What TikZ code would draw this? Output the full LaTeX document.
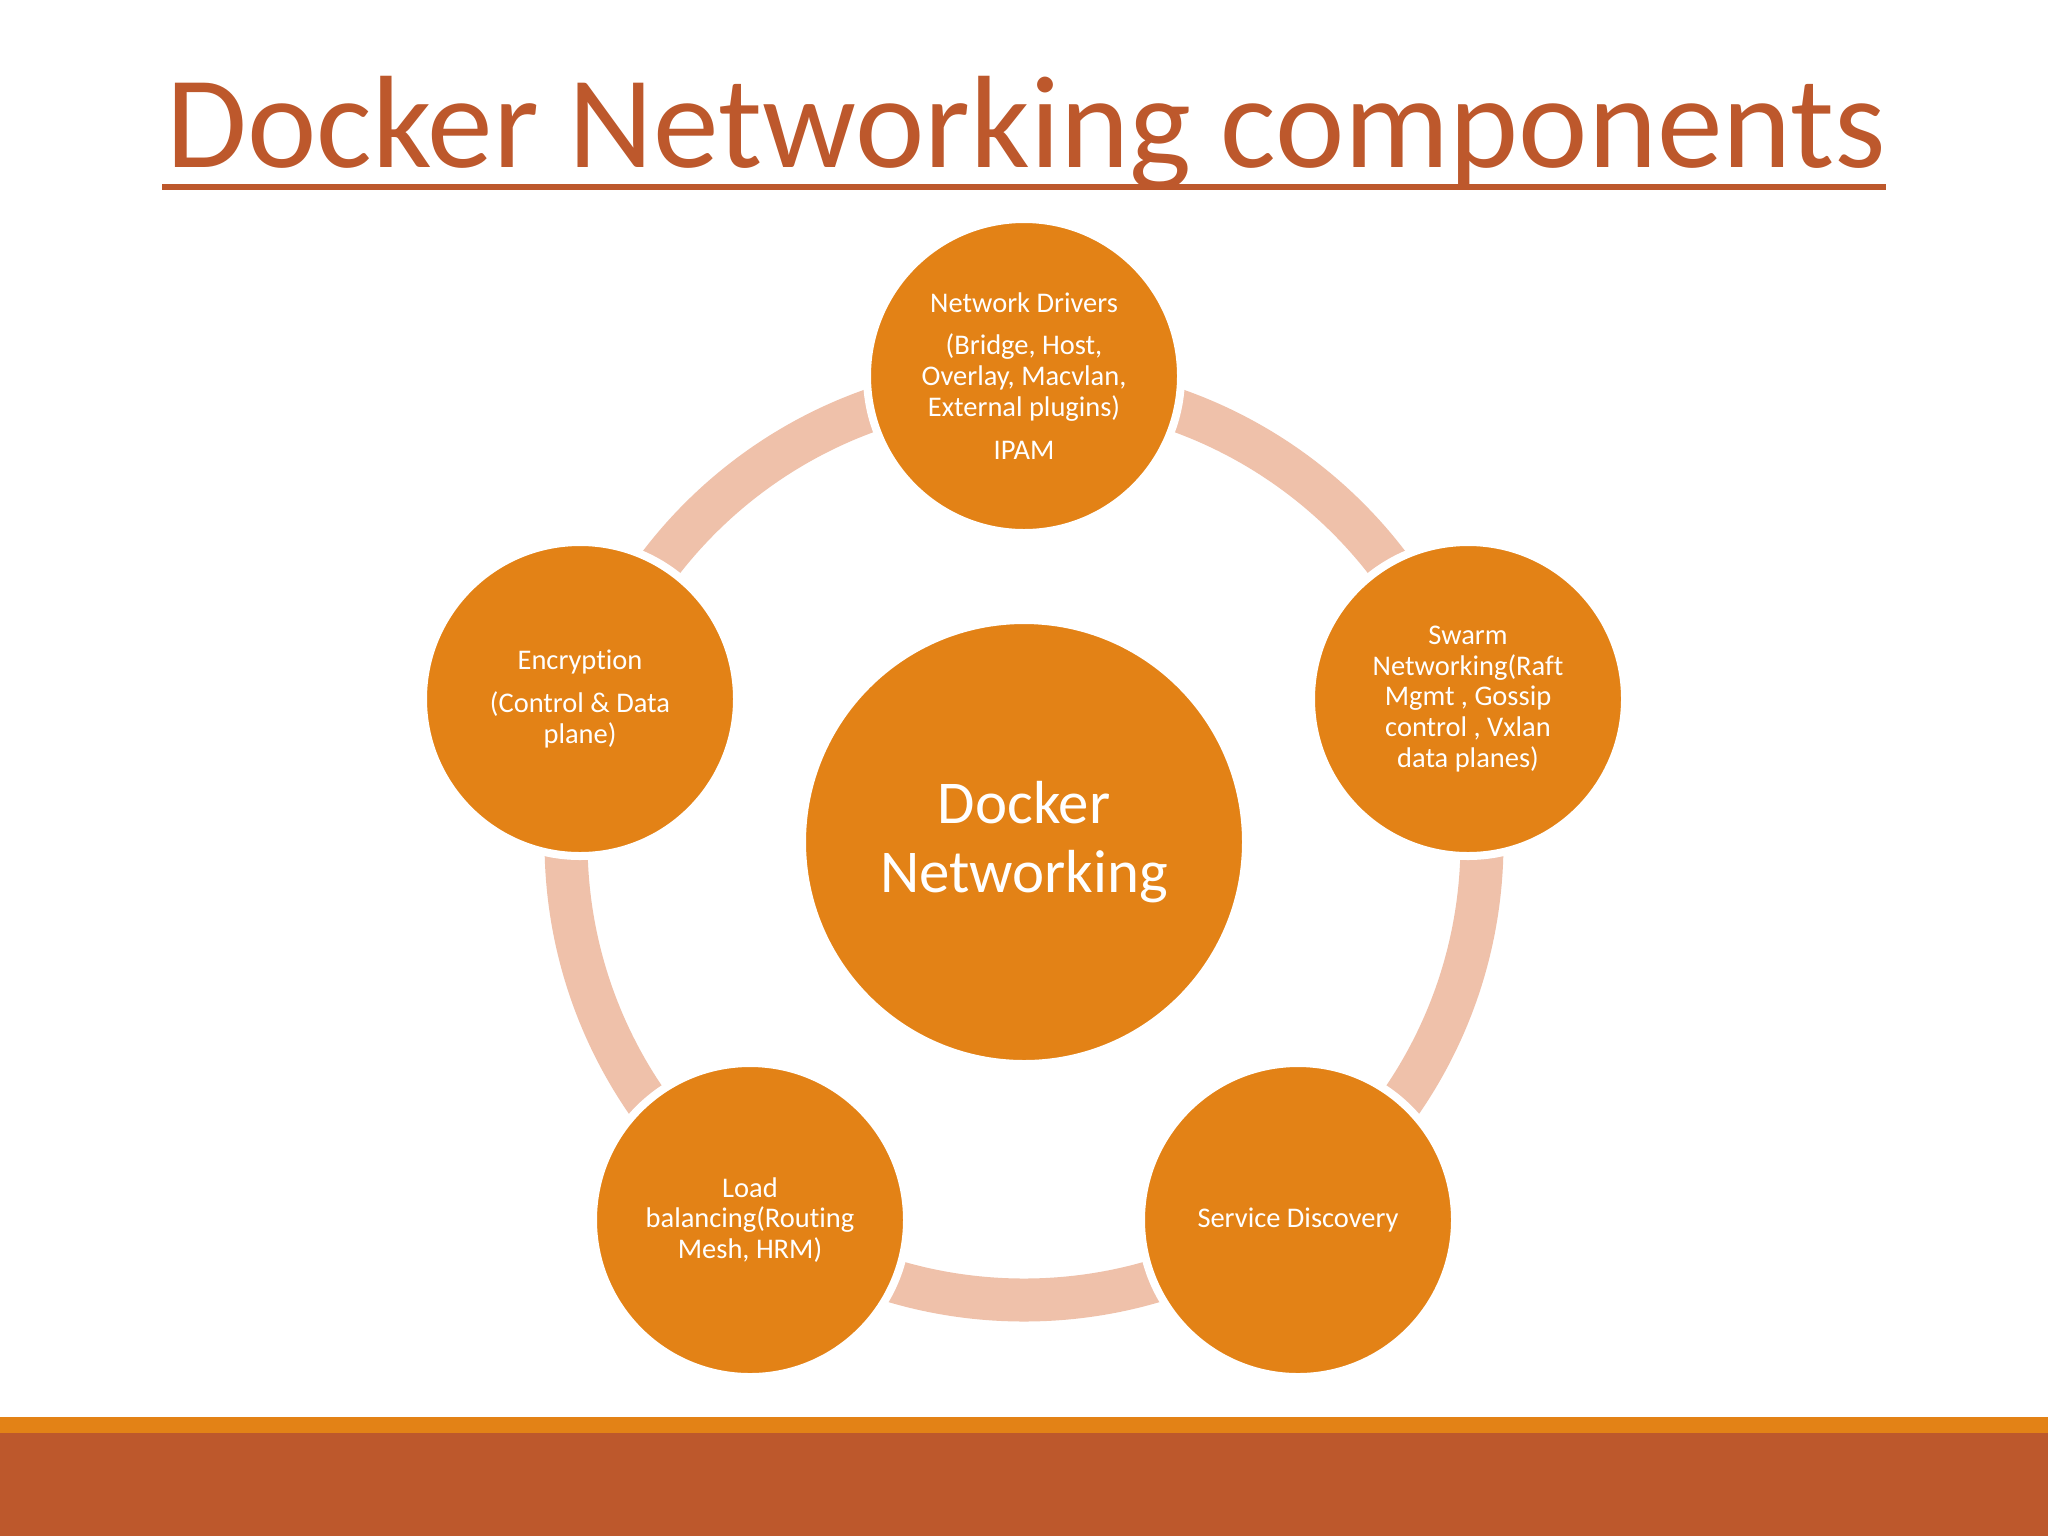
\documentclass[tikz,border=0pt]{standalone}
\usepackage{fontspec}
\setmainfont{Carlito}[Ligatures=NoCommon]
\usepackage{tikz}
\usetikzlibrary{shapes,positioning}
\definecolor{rust}{RGB}{189,88,44}
\definecolor{amber}{RGB}{227,130,22}
\definecolor{blush}{RGB}{239,193,170}
\tikzstyle{ring} = [draw=blush, line width=4.3mm]
\tikzstyle{hub} = [circle, fill=amber, draw=white, line width=0.8mm, minimum size=44.4mm, text=white, align=center, font=\fontsize{17.3}{19.6}\selectfont]
\tikzstyle{sat} = [circle, fill=amber, draw=white, line width=0.8mm, minimum size=31.4mm, text=white, align=center, inner sep=0pt, font=\fontsize{8.1}{8.8}\selectfont]

\begin{document}
\begin{tikzpicture}[x=1mm, y=-1mm]
	\useasboundingbox [fill=white] (0,0) rectangle (204.8,153.6);
	
	\node [anchor=base, text=rust, font=\fontsize{37.4}{40}\selectfont] (title) at (102.6,16.7) {Docker Networking components};
	\draw [rust, line width=0.6mm] (16.2,18.7) -- (188.6,18.7);
	
	\node [hub] (hub) at (102.4,84.2) {Docker\\Networking};
	\path [ring] (hub) circle (45.8mm);
	
	\node [sat, above of = hub, node distance = 46.6mm] (drivers) {Network Drivers\\[1.2mm](Bridge, Host,\\Overlay, Macvlan,\\External plugins)\\[1.2mm]IPAM};
	\node [sat, above of = hub, node distance = 14.3mm, xshift = 44.4mm] (swarm) {Swarm\\Networking(Raft\\Mgmt , Gossip\\control , Vxlan\\data planes)};
	\node [sat, below of = hub, node distance = 37.8mm, xshift = 27.4mm] (disco) {Service Discovery};
	\node [sat, below of = hub, node distance = 37.8mm, xshift = -27.4mm] (lb) {Load\\balancing(Routing\\Mesh, HRM)};
	\node [sat, above of = hub, node distance = 14.3mm, xshift = -44.4mm] (crypt) {Encryption\\[1.2mm](Control \& Data\\plane)};
	
	\fill [amber] (0,141.7) rectangle (204.8,143.3);
	\fill [rust] (0,143.3) rectangle (204.8,153.6);
\end{tikzpicture}
\end{document}
